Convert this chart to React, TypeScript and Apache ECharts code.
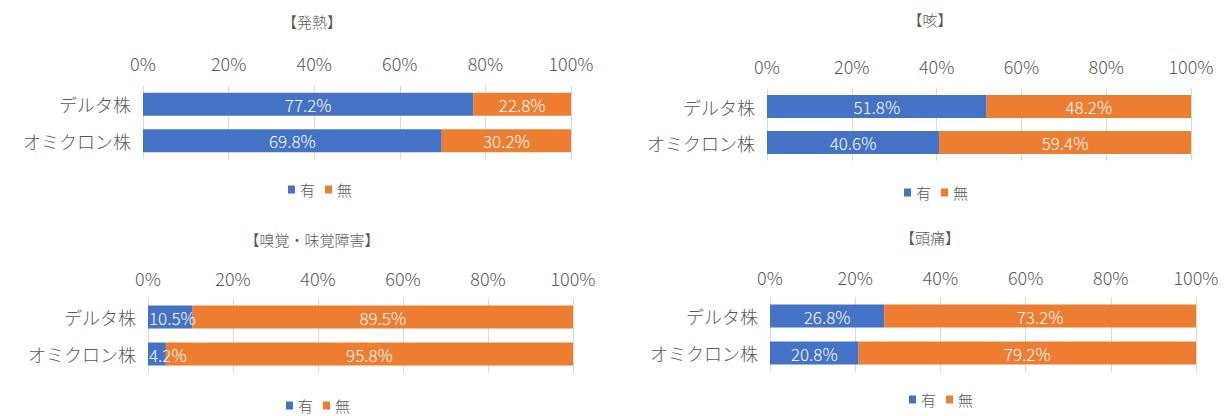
import React, { useEffect, useRef } from "react";
import * as echarts from "echarts";

const categories = ["デルタ株", "オミクロン株"];
const panelTitles = ["【発熱】", "【咳】", "【嗅覚・味覚障害】", "【頭痛】"];
const seriesNames = ["有", "無"];
const yesValues = [
  [77.2, 69.8],
  [51.8, 40.6],
  [10.5, 4.2],
  [26.8, 20.8],
];
const noValues = [
  [22.8, 30.2],
  [48.2, 59.4],
  [89.5, 95.8],
  [73.2, 79.2],
];

const layout = [
  { left: 143, width: 428, top: 86, height: 73, titleX: 307, titleY: 9, legendX: 283, legendY: 177 },
  { left: 767, width: 424, top: 88.5, height: 72, titleX: 925, titleY: 7, legendX: 899, legendY: 180 },
  { left: 148, width: 425, top: 298.5, height: 74, titleX: 307, titleY: 227, legendX: 281, legendY: 393 },
  { left: 770, width: 426, top: 297.5, height: 74, titleX: 925, titleY: 225, legendX: 904, legendY: 387 },
];

const FONT = "Noto Sans CJK JP";
const GRAY = "#595959";
const BLUE = "#4472C4";
const ORANGE = "#ED7D31";

export default function App() {
  const ref = useRef<HTMLDivElement>(null);
  useEffect(() => {
    document.body.style.margin = "0";
    const chart = echarts.init(ref.current!, null, { renderer: "svg" });
    const grid = layout.map((p) => ({ left: p.left, width: p.width, top: p.top, height: p.height, containLabel: false }));
    const title = panelTitles.map((t, i) => ({
      text: t,
      left: layout[i].titleX,
      top: layout[i].titleY,
      textAlign: "center",
      textStyle: { fontFamily: FONT, fontSize: 15, fontWeight: 300, color: GRAY },
    }));
    const legend = layout.map((p) => ({
      data: seriesNames,
      left: p.legendX,
      top: p.legendY,
      icon: "rect",
      itemWidth: 7,
      itemHeight: 8,
      itemGap: 10,
      textStyle: { fontFamily: FONT, fontSize: 15, fontWeight: 300, color: GRAY },
    }));
    const xAxis = layout.map((p, i) => ({
      type: "value",
      gridIndex: i,
      position: "top",
      min: 0,
      max: 100,
      interval: 20,
      axisLine: { show: false },
      axisTick: { show: false },
      splitLine: { show: true, lineStyle: { color: "#D9D9D9", width: 1 } },
      axisLabel: {
        formatter: "{value}%",
        fontFamily: FONT,
        fontSize: 18,
        fontWeight: 300,
        color: GRAY,
        margin: i < 2 ? 14 : 12,
      },
    }));
    const yAxis = layout.map((p, i) => ({
      type: "category",
      gridIndex: i,
      data: categories,
      inverse: true,
      axisLine: { show: false },
      axisTick: { show: false },
      axisLabel: { fontFamily: FONT, fontSize: 18, fontWeight: 300, color: GRAY, margin: 12 },
    }));
    const series: any[] = [];
    layout.forEach((p, i) => {
      [yesValues[i], noValues[i]].forEach((vals, k) => {
        series.push({
          type: "bar",
          name: seriesNames[k],
          xAxisIndex: i,
          yAxisIndex: i,
          stack: "s" + i,
          data: vals.map((v) => {
            const barPx = (v / 100) * p.width;
            if (barPx < 50) {
              return { value: v, label: { position: "insideLeft", distance: 1 } };
            }
            return v;
          }),
          barWidth: 23,
          itemStyle: { color: k === 0 ? BLUE : ORANGE },
          label: {
            show: true,
            position: "inside",
            formatter: (q: any) => Number(q.value).toFixed(1) + "%",
            fontFamily: FONT,
            fontSize: 17,
            fontWeight: 300,
            color: "#FFFFFF",
          },
        });
      });
    });
    chart.setOption({
      animation: false,
      backgroundColor: "#FFFFFF",
      title,
      legend,
      grid,
      xAxis,
      yAxis,
      series,
    } as any);
    return () => chart.dispose();
  }, []);
  return <div ref={ref} style={{ width: 1231, height: 416 }} />;
}
